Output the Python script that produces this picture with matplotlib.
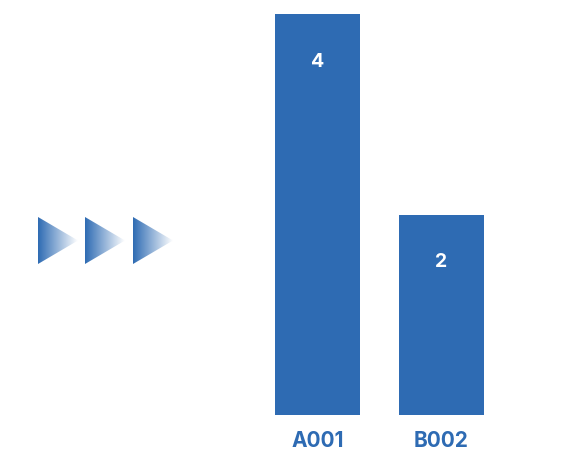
import numpy as np
import matplotlib.pyplot as plt
from matplotlib.patches import Polygon
from matplotlib.colors import LinearSegmentedColormap

# ─── Data ────────────────────────────────────────────────────
categories = ['A001', 'B002']
values     = [4, 2]

BLUE = '#2e6bb3'
W, H = 584, 455

plt.rcParams['font.family'] = ['Inter', 'DejaVu Sans']

fig = plt.figure(figsize=(W / 100, H / 100), dpi=100)

# ─── Decorative arrows (pixel coordinates) ───────────────────
deco = fig.add_axes([0, 0, 1, 1])
deco.set_xlim(0, W)
deco.set_ylim(H, 0)
deco.axis('off')
cmap = LinearSegmentedColormap.from_list('fade', [BLUE, '#ffffff'])
grad = np.linspace(0, 1, 256).reshape(1, -1)
for x0 in (38, 85, 133):
    tri = Polygon([[x0, 217], [x0, 264], [x0 + 40, 240.5]], closed=True,
                  facecolor='none', edgecolor='none')
    deco.add_patch(tri)
    im = deco.imshow(grad, cmap=cmap, aspect='auto',
                     extent=(x0, x0 + 40, 264, 217), interpolation='bilinear')
    im.set_clip_path(tri)
deco.set_xlim(0, W)
deco.set_ylim(H, 0)

# ─── Bars ────────────────────────────────────────────────────
ax = fig.add_axes([255.5 / W, 40 / H, 248 / W, 401 / H])
x = np.arange(len(categories))
bars = ax.bar(x, values, width=85 / 124, color=BLUE)
ax.set_xlim(-0.5, 1.5)
ax.set_ylim(0, max(values))
ax.axis('off')

for xi, v in zip(x, values):
    ax.annotate(str(v), (xi, v), xytext=(0, -34.5), textcoords='offset points',
                ha='center', va='center', color='white',
                fontsize=14, fontweight='bold')
    ax.annotate(categories[xi], (xi, 0), xytext=(0, -18.5), textcoords='offset points',
                ha='center', va='center', color=BLUE,
                fontsize=15, fontweight='bold', annotation_clip=False)

fig.savefig('out.png', dpi=100, facecolor='white')
